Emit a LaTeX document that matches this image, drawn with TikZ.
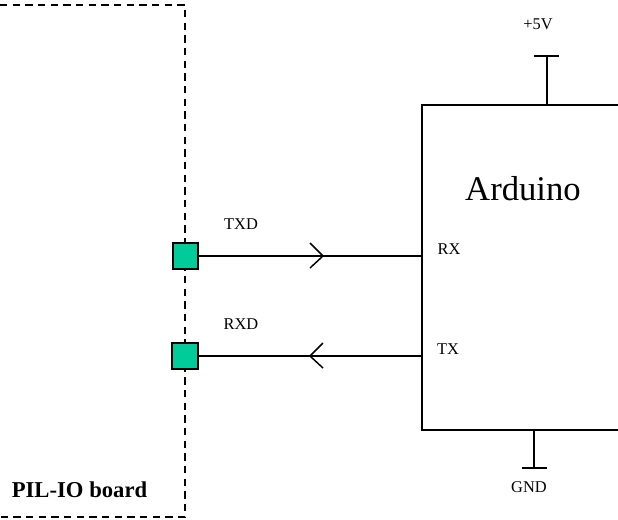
\documentclass[tikz,border=0pt]{standalone}
\usepackage{fontspec}
\setmainfont{Liberation Serif}
\usepackage{tikz}
\usetikzlibrary{positioning}
\definecolor{pincolor}{RGB}{0,204,153}
\tikzset{
  pin/.style={draw=black,fill=pincolor,minimum size=19pt,inner sep=0pt,line width=1.3pt},
  lbl/.style={inner sep=0pt,font=\fontsize{12.3}{12.3}\selectfont},
  wire/.style={line width=1.1pt}
}
\begin{document}
\begin{tikzpicture}[x=0.75pt,y=-0.75pt]
  \useasboundingbox (0,0) rectangle (618,519);
  % board outline
  \coordinate (bt) at (0,5);
  \coordinate (btr) at (185,5);
  \coordinate (bbr) at (185,517);
  \coordinate (bb) at (0,517);
  \draw[line width=1.2pt,dash pattern=on 5.5pt off 4pt] (bt) -- (btr) -- (bbr) -- (bb);
  \node[font=\bfseries\fontsize{17}{17}\selectfont,inner sep=0pt] (board) at (79.5,490) {PIL-IO board};

  % arduino box
  \coordinate (at) at (618,105);
  \coordinate (atl) at (422,105);
  \coordinate (abl) at (422,430);
  \coordinate (ab) at (618,430);
  \draw[wire] (at) -- (atl) -- (abl) -- (ab);
  \node[font=\fontsize{26}{26}\selectfont,inner sep=0pt] (arduino) at (523,189) {Arduino};

  % pins
  \node[pin] (txd) at (185.5,256) {};
  \node[pin] (rxd) at (185,356) {};
  \coordinate (rx) at (422,256);
  \coordinate (tx) at (422,356);
  \draw[wire] (txd) -- (rx);
  \draw[wire] (rxd) -- (tx);
  \coordinate (t1) at (310,243);
  \coordinate (t2) at (323,256);
  \coordinate (t3) at (310,268);
  \draw[wire] (t1) -- (t2) -- (t3);
  \coordinate (r1) at (323,343);
  \coordinate (r2) at (310,356);
  \coordinate (r3) at (323,368);
  \draw[wire] (r1) -- (r2) -- (r3);
  \node[lbl] (txdl) at (241,224.5) {TXD};
  \node[lbl] (rxdl) at (241,324) {RXD};
  \node[lbl] (rxl) at (449,249) {RX};
  \node[lbl] (txl) at (448,349) {TX};

  % supply
  \coordinate (vtop) at (547,56);
  \coordinate (vl) at (534,56);
  \coordinate (vr) at (559,56);
  \coordinate (vbot) at (547,105);
  \draw[wire] (vtop) -- (vbot);
  \draw[wire] (vl) -- (vr);
  \node[lbl] (vcc) at (538,24.5) {+5V};
  \coordinate (gtop) at (534,430);
  \coordinate (gbot) at (534,468);
  \coordinate (gl) at (522,468);
  \coordinate (gr) at (547,468);
  \draw[wire] (gtop) -- (gbot);
  \draw[wire] (gl) -- (gr);
  \node[lbl] (gnd) at (529,487) {GND};
\end{tikzpicture}
\end{document}
